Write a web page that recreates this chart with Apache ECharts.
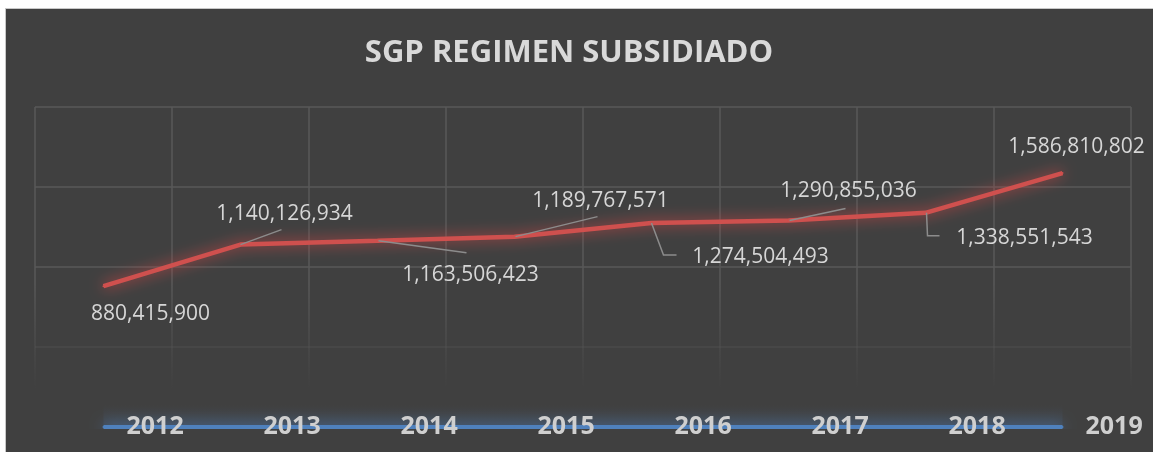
<!DOCTYPE html>
<html><head><meta charset="utf-8">
<script src="https://cdn.jsdelivr.net/npm/echarts@6/dist/echarts.min.js"></script>
<style>
html,body{margin:0;padding:0;background:#fff;width:1153px;height:452px;overflow:hidden}
#frame{position:absolute;left:5px;top:8px;width:1160px;height:460px;border:1px solid #c8c8c8;background:#404040}
#chart{position:absolute;left:6px;top:9px;width:1147px;height:443px}
</style></head><body>
<div id="frame"></div>
<div id="chart"></div>
<script>
// ---- data ----
const titleText = 'SGP REGIMEN SUBSIDIADO';
const years = ['2012', '2013', '2014', '2015', '2016', '2017', '2018', '2019'];
const yearValues = [2012, 2013, 2014, 2015, 2016, 2017, 2018, 2019];
const subsidizedValues = [880415900, 1140126934, 1163506423, 1189767571, 1274504493, 1290855036, 1338551543, 1586810802];
const yMin = 0, yMax = 2000000000, yStep = 500000000;

// ---- label layout (pixel offsets from each point) ----
const labelOffsets = [[47, 28], [44, -31], [93, 34], [86, -36], [109, 34], [60, -29], [99, 25], [14, -26]];
const leaderPaths = [null, [[0, 0], [41, -15]], [[1, 0], [89, 12]], [[1, 0], [83, -20]],
  [[0, 0], [12, 32], [25, 32]], [[1, 0], [57, -12]], [[1, 0], [2, 23], [14, 23]], null];

const fmt = v => v.toLocaleString('en-US');
const gridFade = new echarts.graphic.LinearGradient(0, 98, 0, 418, [
  { offset: 0, color: 'rgba(88,88,88,1)' },
  { offset: 0.55, color: 'rgba(88,88,88,1)' },
  { offset: 0.88, color: 'rgba(88,88,88,0)' },
  { offset: 1, color: 'rgba(88,88,88,0)' }
], true);
const blueGlow = new echarts.graphic.LinearGradient(0, 396, 0, 418, [
  { offset: 0, color: 'rgba(79,129,189,0)' },
  { offset: 1, color: 'rgba(79,129,189,0.2)' }
], true);

const chart = echarts.init(document.getElementById('chart'), null, { renderer: 'canvas' });
chart.setOption({
  backgroundColor: '#404040',
  animation: false,
  title: {
    text: titleText, left: 563, top: 29, textAlign: 'center', padding: 0,
    textStyle: { color: '#d9d9d9', fontFamily: 'Open Sans', fontWeight: 'bold', fontSize: 31 }
  },
  grid: { left: 29, right: 22, top: 98, bottom: 25, containLabel: false },
  xAxis: {
    type: 'category', data: years, boundaryGap: true,
    axisLine: { show: false }, axisTick: { show: false }, axisLabel: { show: false },
    splitLine: { show: true, interval: 0, lineStyle: { color: gridFade, width: 1.5 } }
  },
  yAxis: {
    type: 'value', min: yMin, max: yMax, interval: yStep,
    axisLine: { show: false }, axisTick: { show: false }, axisLabel: { show: false },
    splitLine: { show: true, lineStyle: { color: gridFade, width: 1.5 } }
  },
  series: [
    {
      name: 'Año', type: 'line', data: yearValues,
      symbol: 'circle', symbolSize: 2, showAllSymbol: true,
      itemStyle: { color: '#4f81bd' },
      lineStyle: { color: '#4f81bd', width: 4, shadowBlur: 14, shadowColor: 'rgba(79,129,189,1)' },
      areaStyle: { origin: 'end', color: blueGlow },
      label: {
        show: true, position: 'right', distance: 22,
        formatter: p => years[p.dataIndex],
        color: '#cfcfcf', fontFamily: 'Open Sans', fontWeight: 'bold', fontSize: 25
      },
      emphasis: { disabled: true }, silent: true, z: 2
    },
    {
      name: 'SGP Régimen Subsidiado', type: 'line', data: subsidizedValues,
      symbol: 'circle', symbolSize: 2, showAllSymbol: true,
      itemStyle: { color: '#cf504e' },
      lineStyle: { color: '#cf504e', width: 4.5, shadowBlur: 14, shadowColor: 'rgba(215,70,70,1)' },
      label: {
        show: true, position: 'inside',
        formatter: p => fmt(p.value),
        color: '#d6d6d6', fontFamily: 'Open Sans', fontSize: 21, textBorderWidth: 0
      },
      labelLayout: p => ({ dx: labelOffsets[p.dataIndex][0], dy: labelOffsets[p.dataIndex][1] }),
      emphasis: { disabled: true }, silent: true, z: 3
    },
    {
      name: 'leaders', type: 'custom', silent: true, z: 4, clip: false,
      data: subsidizedValues.map((v, i) => [i, v]),
      renderItem: (params, api) => {
        const path = leaderPaths[params.dataIndex];
        if (!path) return null;
        const p = api.coord([api.value(0), api.value(1)]);
        return {
          type: 'polyline',
          shape: { points: path.map(d => [p[0] + d[0], p[1] + d[1]]) },
          style: { stroke: '#8c8c8c', lineWidth: 1.5, fill: null }
        };
      }
    }
  ]
});
</script>
</body></html>
